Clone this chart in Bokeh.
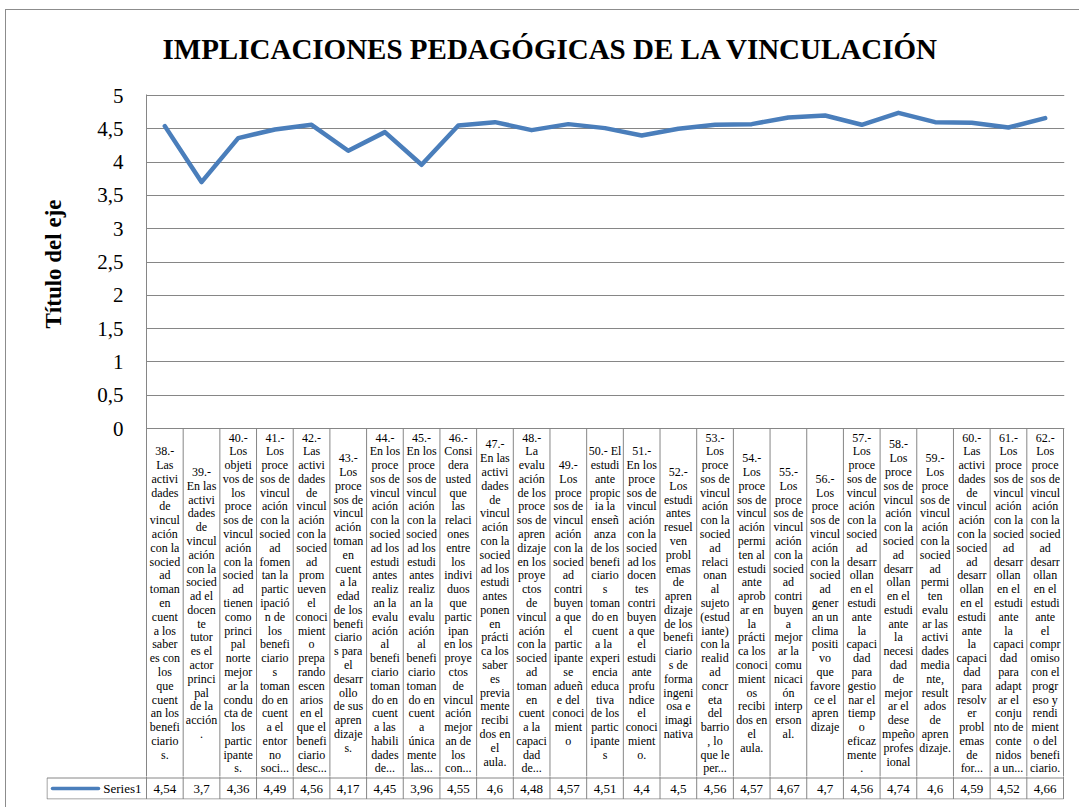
from bokeh.plotting import figure
from bokeh.models import Range1d, FixedTicker, CustomJSTickFormatter, ColumnDataSource, Title
from bokeh.layouts import column
from bokeh.core.properties import value
from bokeh.embed import file_html
from bokeh.resources import INLINE

# ---------------- data ----------------
title_text = "IMPLICACIONES PEDAGÓGICAS DE LA VINCULACIÓN"
axis_title = "Título del eje"
series_name = "Series1"
y_ticks = [0, 0.5, 1, 1.5, 2, 2.5, 3, 3.5, 4, 4.5, 5]

values = [4.54, 3.7, 4.36, 4.49, 4.56, 4.17, 4.45, 3.96, 4.55, 4.6, 4.48, 4.57, 4.51,
          4.4, 4.5, 4.56, 4.57, 4.67, 4.7, 4.56, 4.74, 4.6, 4.59, 4.52, 4.66]

categories = [
    "38.-\nLas\nactivi\ndades\nde\nvincul\nación\ncon la\nsocied\nad\ntoman\nen\ncuent\na los\nsaber\nes con\nlos\nque\ncuent\nan los\nbenefi\nciario\ns.",
    "39.-\nEn las\nactivi\ndades\nde\nvincul\nación\ncon la\nsocied\nad el\ndocen\nte\ntutor\nes el\nactor\nprinci\npal\nde la\nacción\n.",
    "40.-\nLos\nobjeti\nvos de\nlos\nproce\nsos de\nvincul\nación\ncon la\nsocied\nad\ntienen\ncomo\nprinci\npal\nnorte\nmejor\nar la\ncondu\ncta de\nlos\npartic\nipante\ns.",
    "41.-\nLos\nproce\nsos de\nvincul\nación\ncon la\nsocied\nad\nfomen\ntan la\npartic\nipació\nn de\nlos\nbenefi\nciario\ns\ntoman\ndo en\ncuent\na el\nentor\nno\nsoci...",
    "42.-\nLas\nactivi\ndades\nde\nvincul\nación\ncon la\nsocied\nad\nprom\nueven\nel\nconoci\nmient\no\nprepa\nrando\nescen\narios\nen el\nque el\nbenefi\nciario\ndesc...",
    "43.-\nLos\nproce\nsos de\nvincul\nación\ntoman\nen\ncuent\na la\nedad\nde los\nbenefi\nciario\ns para\nel\ndesarr\nollo\nde sus\napren\ndizaje\ns.",
    "44.-\nEn los\nproce\nsos de\nvincul\nación\ncon la\nsocied\nad los\nestudi\nantes\nrealiz\nan la\nevalu\nación\nal\nbenefi\nciario\ntoman\ndo en\ncuent\na las\nhabili\ndades\nde...",
    "45.-\nEn los\nproce\nsos de\nvincul\nación\ncon la\nsocied\nad los\nestudi\nantes\nrealiz\nan la\nevalu\nación\nal\nbenefi\nciario\ntoman\ndo en\ncuent\na\núnica\nmente\nlas...",
    "46.-\nConsi\ndera\nusted\nque\nlas\nrelaci\nones\nentre\nlos\nindivi\nduos\nque\npartic\nipan\nen los\nproye\nctos\nde\nvincul\nación\nmejor\nan de\nlos\ncon...",
    "47.-\nEn las\nactivi\ndades\nde\nvincul\nación\ncon la\nsocied\nad los\nestudi\nantes\nponen\nen\nprácti\nca los\nsaber\nes\nprevia\nmente\nrecibi\ndos en\nel\naula.",
    "48.-\nLa\nevalu\nación\nde los\nproce\nsos de\napren\ndizaje\nen los\nproye\nctos\nde\nvincul\nación\ncon la\nsocied\nad\ntoman\nen\ncuent\na la\ncapaci\ndad\nde...",
    "49.-\nLos\nproce\nsos de\nvincul\nación\ncon la\nsocied\nad\ncontri\nbuyen\na que\nel\npartic\nipante\nse\nadueñ\ne del\nconoci\nmient\no",
    "50.- El\nestudi\nante\npropic\nia la\nenseñ\nanza\nde los\nbenefi\nciario\ns\ntoman\ndo en\ncuent\na  la\nexperi\nencia\neduca\ntiva\nde los\npartic\nipante\ns",
    "51.-\nEn los\nproce\nsos de\nvincul\nación\ncon la\nsocied\nad los\ndocen\ntes\ncontri\nbuyen\na que\nel\nestudi\nante\nprofu\nndice\nel\nconoci\nmient\no.",
    "52.-\nLos\nestudi\nantes\nresuel\nven\nprobl\nemas\nde\napren\ndizaje\nde los\nbenefi\nciario\ns de\nforma\ningeni\nosa e\nimagi\nnativa",
    "53.-\nLos\nproce\nsos de\nvincul\nación\ncon la\nsocied\nad\nrelaci\nonan\nal\nsujeto\n(estud\niante)\ncon la\nrealid\nad\nconcr\neta\ndel\nbarrio\n, lo\nque le\nper...",
    "54.-\nLos\nproce\nsos de\nvincul\nación\npermi\nten al\nestudi\nante\naprob\nar en\nla\nprácti\nca los\nconoci\nmient\nos\nrecibi\ndos en\nel\naula.",
    "55.-\nLos\nproce\nsos de\nvincul\nación\ncon la\nsocied\nad\ncontri\nbuyen\na\nmejor\nar la\ncomu\nnicaci\nón\ninterp\nerson\nal.",
    "56.-\nLos\nproce\nsos de\nvincul\nación\ncon la\nsocied\nad\ngener\nan un\nclima\npositi\nvo\nque\nfavore\nce el\napren\ndizaje",
    "57.-\nLos\nproce\nsos de\nvincul\nación\ncon la\nsocied\nad\ndesarr\nollan\nen el\nestudi\nante\nla\ncapaci\ndad\npara\ngestio\nnar el\ntiemp\no\neficaz\nmente\n.",
    "58.-\nLos\nproce\nsos de\nvincul\nación\ncon la\nsocied\nad\ndesarr\nollan\nen el\nestudi\nante\nla\nnecesi\ndad\nde\nmejor\nar el\ndese\nmpeño\nprofes\nional",
    "59.-\nLos\nproce\nsos de\nvincul\nación\ncon la\nsocied\nad\npermi\nten\nevalu\nar las\nactivi\ndades\nmedia\nnte,\nresult\nados\nde\napren\ndizaje.",
    "60.-\nLas\nactivi\ndades\nde\nvincul\nación\ncon la\nsocied\nad\ndesarr\nollan\nen el\nestudi\nante\nla\ncapaci\ndad\npara\nresolv\ner\nprobl\nemas\nde\nfor...",
    "61.-\nLos\nproce\nsos de\nvincul\nación\ncon la\nsocied\nad\ndesarr\nollan\nen el\nestudi\nante\nla\ncapaci\ndad\npara\nadapt\nar el\nconju\nnto de\nconte\nnidos\na un...",
    "62.-\nLos\nproce\nsos de\nvincul\nación\ncon la\nsocied\nad\ndesarr\nollan\nen el\nestudi\nante\nel\ncompr\nomiso\ncon el\nprogr\neso y\nrendi\nmient\no del\nbenefi\nciario.",
]

# ---------------- layout constants (pixels) ----------------
LINE_COLOR = "#4A7EBB"
GRID_COLOR = "#868686"
SERIF = "Liberation Serif"
n = len(values)
PAGE_W = 1079
PLOT_LEFT = 146       # frame left of the chart
PLOT_RIGHT = 1064     # frame right
TABLE_LEFT = 46       # left edge of the data table (legend cell)
Y5_PX, Y0_PX = 95, 428          # pixel rows of value 5 and value 0
FRAME_TOP, FRAME_BOTTOM = 94, 776
ROW_TOP_PX, ROW_BOTTOM_PX = 777, 798
W = (PLOT_RIGHT - 1 - PLOT_LEFT) / n     # px per category
PX_PER_UNIT = (Y0_PX - Y5_PX) / 5


def px2x(px):
    return (px - PLOT_LEFT) / W


def py2y(py):
    return (Y0_PX - py) / PX_PER_UNIT


x_centers = [i + 0.5 for i in range(n)]
value_labels = [str(v).replace(".", ",") for v in values]

# ---------------- chart + category header ----------------
top = figure(width=PAGE_W, height=FRAME_BOTTOM,
             x_range=Range1d(0, px2x(PLOT_RIGHT)),
             y_range=Range1d(py2y(FRAME_BOTTOM), py2y(FRAME_TOP)),
             min_border_left=PLOT_LEFT, min_border_right=PAGE_W - PLOT_RIGHT,
             min_border_top=FRAME_TOP, min_border_bottom=0, frame_align=False,
             x_axis_type=None, output_backend="svg", toolbar_location=None,
             title=title_text)
top.outline_line_color = None
top.border_fill_color = None
top.background_fill_color = "white"
top.xgrid.visible = False
top.ygrid.grid_line_color = GRID_COLOR
top.ygrid.grid_line_width = 1

ya = top.yaxis[0]
ya.ticker = FixedTicker(ticks=y_ticks)
ya.formatter = CustomJSTickFormatter(code="return tick.toString().replace('.', ',');")
ya.major_tick_line_color = None
ya.major_tick_out = 0
ya.major_tick_in = 0
ya.minor_tick_line_color = None
ya.axis_line_color = GRID_COLOR
ya.major_label_text_font = SERIF
ya.major_label_text_font_size = "21px"
ya.major_label_text_color = "black"
ya.major_label_standoff = 23

top.title.text_font = SERIF
top.title.text_font_size = "29px"
top.title.text_font_style = "bold"
top.title.text_color = "black"
top.title.align = "left"
top.title.offset = 16
top.title.standoff = 60

# axis title (vertical), placed along the value range only
ytitle = Title(text=axis_title, align="left", offset=FRAME_BOTTOM - 328,
               text_font=SERIF, text_font_size="23px", text_font_style="bold",
               text_color="black", standoff=57)
top.add_layout(ytitle, "left")

src = ColumnDataSource(dict(x=x_centers, y=values))
top.line("x", "y", source=src, line_color=LINE_COLOR, line_width=4.5,
         line_join="round", line_cap="round")

# category header cells of the data table
y_head_bottom = py2y(FRAME_BOTTOM + 1)
top.segment(x0=list(range(1, n + 1)), y0=[0] * n,
            x1=list(range(1, n + 1)), y1=[y_head_bottom] * n,
            line_color=GRID_COLOR, line_width=1)
head_mid = py2y((Y0_PX + ROW_TOP_PX) / 2)
top.text(x=x_centers, y=[head_mid] * n, text=categories,
         text_align="center", text_baseline="middle",
         text_font=value(SERIF), text_font_size="12px", text_line_height=0.985,
         text_color="black")

# ---------------- value row of the data table ----------------
BOT_FRAME_H = ROW_BOTTOM_PX + 1 - FRAME_BOTTOM      # 23 px


def ry(py):
    return (FRAME_BOTTOM + BOT_FRAME_H) - py - 0.5


bot = figure(width=PAGE_W, height=BOT_FRAME_H + 8,
             x_range=Range1d(px2x(TABLE_LEFT), px2x(PLOT_RIGHT)), y_range=Range1d(0, BOT_FRAME_H),
             min_border_left=TABLE_LEFT, min_border_right=PAGE_W - PLOT_RIGHT,
             min_border_top=0, min_border_bottom=8, frame_align=False,
             x_axis_type=None, y_axis_type=None,
             output_backend="svg", toolbar_location=None)
bot.outline_line_color = None
bot.border_fill_color = None
bot.background_fill_color = "white"
bot.grid.visible = False

xl = px2x(TABLE_LEFT + 0.5)
yb, yt = ry(ROW_BOTTOM_PX), ry(ROW_TOP_PX)
bot.segment(x0=list(range(n + 1)), y0=[yb] * (n + 1),
            x1=list(range(n + 1)), y1=[BOT_FRAME_H + 1] * (n + 1),
            line_color=GRID_COLOR, line_width=1)
bot.segment(x0=[xl], y0=[yb], x1=[xl], y1=[yt],
            line_color=GRID_COLOR, line_width=1)
bot.segment(x0=[xl, xl], y0=[yb, yt], x1=[n, n], y1=[yb, yt],
            line_color=GRID_COLOR, line_width=1)

row_mid = (yb + yt) / 2
bot.text(x=x_centers, y=[row_mid] * n, text=value_labels,
         text_align="center", text_baseline="middle",
         text_font=value(SERIF), text_font_size="13px", text_color="black")

# legend key
bot.segment(x0=[px2x(52)], y0=[row_mid], x1=[px2x(98)], y1=[row_mid],
            line_color=LINE_COLOR, line_width=3.5, line_cap="round")
bot.text(x=[px2x(141)], y=[row_mid], text=[series_name],
         text_align="right", text_baseline="middle",
         text_font=value(SERIF), text_font_size="13px", text_color="black")

layout = column(top, bot, spacing=0,
                styles={"box-shadow": "inset 5px 0 0 0 #ffffff, inset 0 9px 0 0 #ffffff, "
                                      "inset 6px 0 0 0 #8c8c8c, inset 0 10px 0 0 #8c8c8c",
                        "background-color": "#ffffff"})

open("out.html", "w").write(file_html(layout, INLINE))
